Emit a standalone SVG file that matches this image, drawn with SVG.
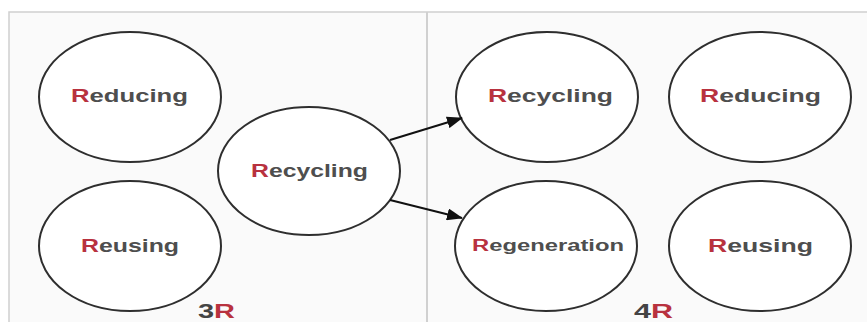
<svg xmlns="http://www.w3.org/2000/svg" width="867" height="322" viewBox="0 0 867 322">
<style>
.bg{fill:#ffffff}
.panel{fill:#fafafa;stroke:#cfcfcf;stroke-width:1.5}
.div{stroke:#d0d0d0;stroke-width:2}
.node ellipse{fill:#ffffff;stroke:#2e2e2e;stroke-width:2}
.lbl{font-family:"Liberation Sans",Arial,sans-serif;font-weight:bold;font-size:19px;fill:#4e4e4e;text-anchor:start}
.r{fill:#b8323f}
.conn line{stroke:#111;stroke-width:2}
.cap{font-family:"Liberation Sans",Arial,sans-serif;font-weight:bold;font-size:21px;fill:#444}
</style>
<defs>
<marker id="ah" viewBox="0 0 16 12" refX="15" refY="6" markerWidth="16" markerHeight="12" markerUnits="userSpaceOnUse" orient="auto">
<path d="M0,0 L16,6 L0,12 z" fill="#111"/>
</marker>
</defs>
<rect class="bg" x="0" y="0" width="867" height="322"/>
<rect class="panel" x="9" y="12" width="870" height="330"/>
<line class="div" x1="427" y1="12" x2="427" y2="322"/>

<g id="left-reducing" class="node">
<ellipse cx="130" cy="97" rx="91" ry="65"/>
<text class="lbl" x="71" y="102" textLength="117" lengthAdjust="spacingAndGlyphs"><tspan class="r">R</tspan>educing</text>
</g>
<g id="left-reusing" class="node">
<ellipse cx="130" cy="246" rx="91" ry="65"/>
<text class="lbl" x="81" y="252" textLength="98" lengthAdjust="spacingAndGlyphs"><tspan class="r">R</tspan>eusing</text>
</g>
<g id="left-recycling" class="node">
<ellipse cx="309" cy="171" rx="91" ry="64"/>
<text class="lbl" x="251" y="177" textLength="117" lengthAdjust="spacingAndGlyphs"><tspan class="r">R</tspan>ecycling</text>
</g>
<g id="label-3r">
<text class="cap" x="198" y="318" textLength="37" lengthAdjust="spacingAndGlyphs">3<tspan class="r">R</tspan></text>
</g>

<g id="right-recycling" class="node">
<ellipse cx="547" cy="97" rx="91" ry="65"/>
<text class="lbl" x="488" y="102" textLength="125" lengthAdjust="spacingAndGlyphs"><tspan class="r">R</tspan>ecycling</text>
</g>
<g id="right-reducing" class="node">
<ellipse cx="760" cy="97" rx="91" ry="65"/>
<text class="lbl" x="700" y="102" textLength="121" lengthAdjust="spacingAndGlyphs"><tspan class="r">R</tspan>educing</text>
</g>
<g id="right-regeneration" class="node">
<ellipse cx="546" cy="246" rx="91" ry="65"/>
<text class="lbl" x="472" y="251" style="font-size:16px" textLength="152" lengthAdjust="spacingAndGlyphs"><tspan class="r">R</tspan>egeneration</text>
</g>
<g id="right-reusing" class="node">
<ellipse cx="760" cy="246" rx="91" ry="65"/>
<text class="lbl" x="708" y="252" textLength="105" lengthAdjust="spacingAndGlyphs"><tspan class="r">R</tspan>eusing</text>
</g>
<g id="label-4r">
<text class="cap" x="634" y="318" textLength="39" lengthAdjust="spacingAndGlyphs">4<tspan class="r">R</tspan></text>
</g>

<g id="connectors" class="conn">
<line x1="390" y1="140" x2="462" y2="118" marker-end="url(#ah)"/>
<line x1="390" y1="200" x2="462" y2="218" marker-end="url(#ah)"/>
</g>
</svg>
